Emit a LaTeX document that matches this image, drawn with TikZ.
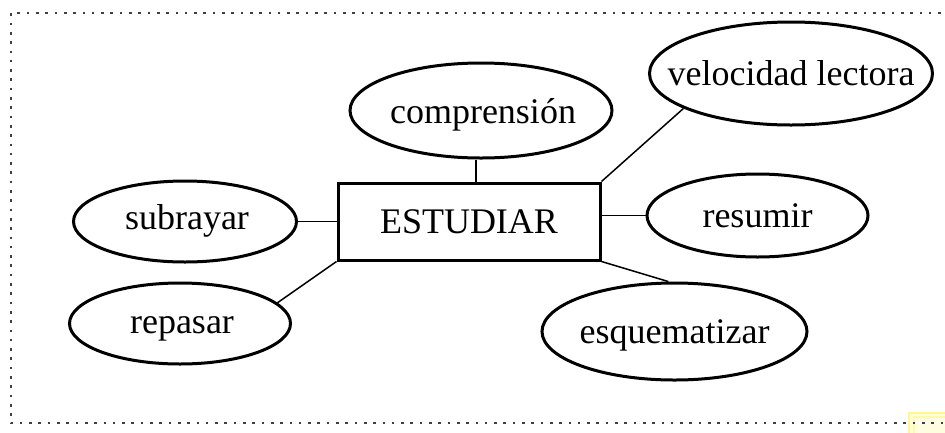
\documentclass[tikz,border=0pt]{standalone}
\usepackage{fontspec}
\setmainfont{Liberation Serif}
\usetikzlibrary{shapes.geometric}
\begin{document}
\begin{tikzpicture}[x=1pt,y=-1pt,
  bubble/.style={draw, line width=3pt, ellipse, inner sep=0pt},
  mainbox/.style={draw, line width=3pt, rectangle, inner sep=0pt, minimum width=262pt, minimum height=77pt},
  link/.style={line width=1.5pt},
  frame/.style={draw=black!75, line width=2.6pt, dash pattern=on 2.6pt off 6.7pt},
  lbl/.style={font=\fontsize{36}{42}\selectfont, inner sep=0pt, anchor=base}]
\useasboundingbox (0,0) rectangle (945,432);
% selection handle in corner
\draw[draw=yellow!45, fill=yellow!12, line width=1.2pt] (909,413) rectangle (948,435);
\draw[draw=yellow!35, line width=1.2pt] (914,417) rectangle (948,435);
% dotted frame
\draw[frame] (950,13) -- (11,13) -- (11,423) -- (950,423);
% shapes
\node[mainbox] (est) at (469,221.5) {};
\node[bubble, minimum width=262pt, minimum height=95pt] (comp) at (481,110.5) {};
\node[bubble, minimum width=283pt, minimum height=103pt] (vel) at (791,73.5) {};
\node[bubble, minimum width=223pt, minimum height=81pt] (sub) at (185,221.5) {};
\node[bubble, minimum width=221pt, minimum height=81pt] (rep) at (180,323.5) {};
\node[bubble, minimum width=221pt, minimum height=83pt] (res) at (757.5,215.5) {};
\node[bubble, minimum width=265pt, minimum height=97pt] (esq) at (674.5,331.5) {};
% labels
\node[lbl] (est-t) at (469,233) {ESTUDIAR};
\node[lbl] (comp-t) at (483,123) {comprensión};
\node[lbl] (vel-t) at (791,85) {velocidad lectora};
\node[lbl] (sub-t) at (187,229) {subrayar};
\node[lbl] (rep-t) at (182,333) {repasar};
\node[lbl] (res-t) at (757.5,227) {resumir};
\node[lbl] (esq-t) at (674.5,343) {esquematizar};
% connectors
\draw[link] (comp.south) ++(-5,0) coordinate (cs) -- (cs |- est.north);
\draw[link] (est.north east) -- (vel.198);
\draw[link] (sub.east) -- (sub.east -| est.west);
\draw[link] (est.south west) -- (rep.12);
\draw[link] (res.west) -- (res.west -| est.east);
\draw[link] (est.south east) -- (esq.97);
\end{tikzpicture}
\end{document}
